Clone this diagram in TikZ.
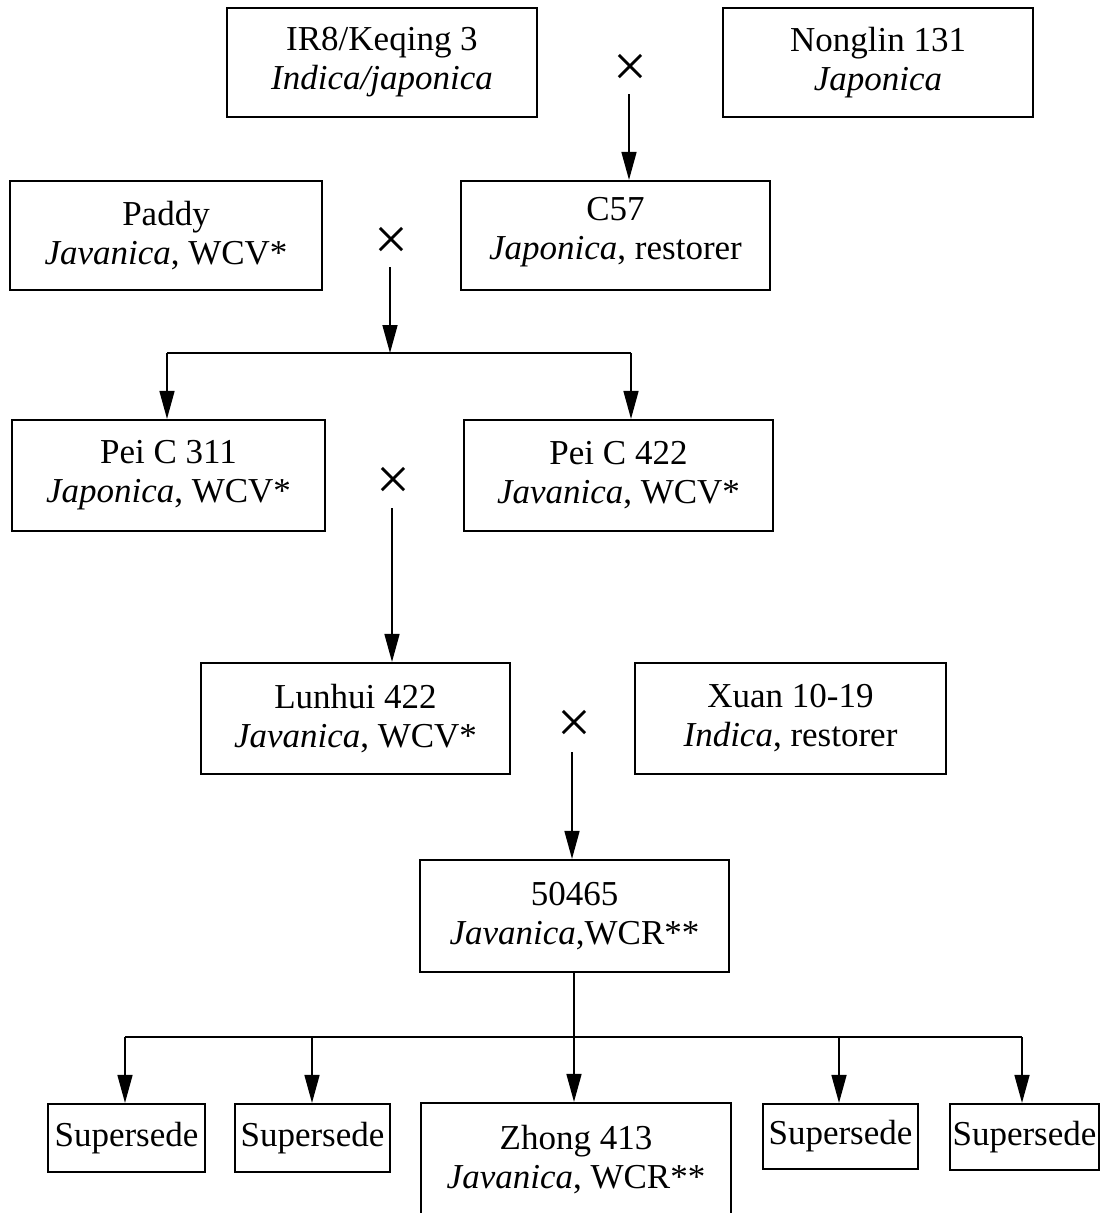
\documentclass[tikz,border=0pt]{standalone}
\usepackage{fontspec}
\setmainfont{Liberation Serif}
\usetikzlibrary{arrows.meta}
\begin{document}
\begin{tikzpicture}[x=1pt,y=-1pt,
  box/.style={draw, line width=2.2pt, align=center, inner sep=0pt,
    font=\fontsize{35}{39}\selectfont},
  cross/.style={inner sep=0pt, font=\fontsize{60}{60}\selectfont},
  conn/.style={line width=1.6pt},
  bar/.style={line width=2.4pt},
  tip/.style={-{Triangle[length=28pt,width=15pt]}}]
\clip (0,0) rectangle (1101,1213);
\fill[white] (0,0) rectangle (1101,1213);
% boxes
\node[box, minimum width=310pt, minimum height=109pt] (ir8) at (382,62.5) {IR8/Keqing 3\\\textit{Indica/japonica}};
\node[box, minimum width=310pt, minimum height=109pt] (non) at (878,62.5) {Nonglin 131\\\textit{Japonica}};
\node[box, minimum width=309pt, minimum height=109pt] (c57) at (615.5,235.5) {C57\\\textit{Japonica}, restorer\\[-25pt]\mbox{}};
\node[box, minimum width=312pt, minimum height=109pt] (paddy) at (166,235.5) {Paddy\\\textit{Javanica}, WCV*};
\node[box, minimum width=313pt, minimum height=111pt] (pei311) at (168.5,475.5) {Pei C 311\\\textit{Japonica}, WCV*};
\node[box, minimum width=309pt, minimum height=111pt] (pei422) at (618.5,475.5) {Pei C 422\\\textit{Javanica}, WCV*};
\node[box, minimum width=309pt, minimum height=111pt] (lunhui) at (355.5,718.5) {Lunhui 422\\\textit{Javanica}, WCV*};
\node[box, minimum width=311pt, minimum height=111pt] (xuan) at (790.5,718.5) {Xuan 10-19\\\textit{Indica}, restorer};
\node[box, minimum width=309pt, minimum height=112pt] (n50465) at (574.5,916) {50465\\\textit{Javanica},WCR**};
\node[box, minimum width=157pt, minimum height=68pt] (sup1) at (126.5,1138) {Supersede};
\node[box, minimum width=155pt, minimum height=68pt] (sup2) at (312.5,1138) {Supersede};
\node[box, minimum width=310pt, minimum height=122pt] (zhong) at (576,1164) {Zhong 413\\\textit{Javanica}, WCR**\\[-25pt]\mbox{}};
\node[box, minimum width=155pt, minimum height=65pt] (sup3) at (840.5,1136.5) {Supersede};
\node[box, minimum width=149pt, minimum height=66pt] (sup4) at (1024.5,1137) {Supersede};
% crosses
\node[cross] (x1) at (630,70) {×};
\node[cross] (x2) at (391,243) {×};
\node[cross] (x3) at (393,483) {×};
\node[cross] (x4) at (574,726) {×};
% connectors
\coordinate (a1) at (629,94);
\coordinate (a2) at (390,267);
\coordinate (a3) at (392,508);
\coordinate (a4) at (572,752);
\draw[conn,tip] (a1) -- (a1 |- c57.north);
\coordinate (b1) at (390,353);
\coordinate (b1l) at (167,353);
\coordinate (b1r) at (631,353);
\draw[conn,tip] (a2) -- (b1);
\draw[bar] (b1l) -- (b1r);
\draw[conn,tip] (b1l) -- (b1l |- pei311.north);
\draw[conn,tip] (b1r) -- (b1r |- pei422.north);
\draw[conn,tip] (a3) -- (a3 |- lunhui.north);
\draw[conn,tip] (a4) -- (a4 |- n50465.north);
\coordinate (c5) at (574,972);
\coordinate (b2l) at (125,1037);
\coordinate (b22) at (312,1037);
\coordinate (b23) at (839,1037);
\coordinate (b2r) at (1022,1037);
\draw[conn,tip] (c5) -- (c5 |- zhong.north);
\draw[bar] (b2l) -- (b2r);
\draw[conn,tip] (b2l) -- (b2l |- sup1.north);
\draw[conn,tip] (b22) -- (b22 |- sup2.north);
\draw[conn,tip] (b23) -- (b23 |- sup3.north);
\draw[conn,tip] (b2r) -- (b2r |- sup4.north);
\end{tikzpicture}
\end{document}
